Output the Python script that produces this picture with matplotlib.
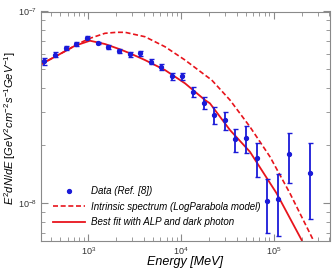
import numpy as np
import matplotlib
matplotlib.use("Agg")
import matplotlib.pyplot as plt
from matplotlib.lines import Line2D
from matplotlib.ticker import LogLocator, NullFormatter, FixedLocator

# ---- data ----
energy = [336, 438, 571, 745, 971, 1266, 1648, 2148, 2799, 3614, 4718, 6138, 8010,
          10360, 13500, 17580, 22800, 29700, 38700, 50500, 65600, 85300, 111200,
          145000, 246000]
flux_e8 = [5.49, 5.95, 6.45, 6.79, 7.30, 6.85, 6.55, 6.19, 5.98, 6.05, 5.47, 5.11,
           4.59, 4.59, 3.81, 3.34, 2.87, 2.71, 2.15, 2.18, 1.72, 1.02, 1.045, 1.80, 1.44]
err_e8 = [0.24, 0.18, 0.18, 0.15, 0.12, 0.12, 0.14, 0.15, 0.17, 0.20, 0.17, 0.18,
          0.20, 0.18, 0.22, 0.25, 0.29, 0.29, 0.30, 0.35, 0.35, 0.32, 0.37, 0.53, 0.61]

fit_logE = [2.491, 2.696, 2.858, 3.019, 3.181, 3.343, 3.451, 3.612, 3.828, 4.044,
            4.259, 4.313, 4.529, 4.744, 4.852, 5.032, 5.302]
fit_logF = [-7.2757, -7.2219, -7.1786, -7.1525, -7.1697, -7.1974, -7.2183, -7.2533,
            -7.3055, -7.3749, -7.4621, -7.4794, -7.6188, -7.7321, -7.8136, -7.9493, -8.1932]

intr_logE = [2.491, 2.696, 2.858, 2.944, 3.019, 3.181, 3.307, 3.397, 3.612, 3.828,
             4.044, 4.259, 4.332, 4.529, 4.744, 4.960, 5.176, 5.427]
intr_logF = [-7.2757, -7.2219, -7.1786, -7.1567, -7.140, -7.1138, -7.1086, -7.1086,
             -7.1316, -7.1838, -7.2533, -7.3316, -7.3577, -7.4621, -7.6016, -7.758,
             -7.9493, -8.1932]

labels = ["Data (Ref. [8])", "Intrinsic spectrum (LogParabola model)",
          "Best fit with ALP and dark photon"]

RED = "#e8141c"
BLUE = "#1a1ad8"
GRAY = "#8a8a8a"

plt.rcParams['font.family'] = ['Liberation Sans', 'DejaVu Sans']
plt.rcParams['mathtext.fontset'] = 'custom'
plt.rcParams['mathtext.it'] = 'Liberation Sans:italic'
plt.rcParams['mathtext.rm'] = 'Liberation Sans'

fig = plt.figure(figsize=(3.32, 2.73), dpi=100)
ax = fig.add_axes([41/332, 1-241/273, (329.5-41)/332, (241-11.5)/273])

E = np.array(energy, float)
F = np.array(flux_e8) * 1e-8
Er = np.array(err_e8) * 1e-8

ax.errorbar(E, F, yerr=Er, fmt='o', color=BLUE, ms=2.8, elinewidth=1.3,
            capsize=1.8, capthick=1.0, zorder=3)
h2, = ax.plot(10**np.array(intr_logE), 10**np.array(intr_logF), color=RED,
              lw=1.2, ls=(0, (3.0, 1.6)), zorder=2)
h3, = ax.plot(10**np.array(fit_logE), 10**np.array(fit_logF), color=RED,
              lw=1.3, zorder=2)
h1 = Line2D([], [], ls='none', marker='o', ms=2.8, color=BLUE)

ax.set_xscale('log')
ax.set_yscale('log')
ax.set_xlim(310, 4.0e5)
ax.set_ylim(6.34e-9, 1e-7)

ax.xaxis.set_major_locator(FixedLocator([1e3, 1e4, 1e5]))
ax.xaxis.set_minor_locator(LogLocator(base=10, subs=np.arange(2, 10)))
ax.xaxis.set_minor_formatter(NullFormatter())
ax.yaxis.set_major_locator(FixedLocator([1e-8, 1e-7]))
ax.yaxis.set_minor_locator(LogLocator(base=10, subs=np.arange(2, 10)))
ax.yaxis.set_minor_formatter(NullFormatter())

ax.set_xticklabels([r'$\mathit{10^{3}}$', r'$\mathit{10^{4}}$', r'$\mathit{10^{5}}$'])
ax.set_yticklabels([r'$\mathit{10^{-8}}$', r'$\mathit{10^{-7}}$'])

ax.tick_params(which='both', direction='in', top=True, right=True, color=GRAY,
               labelsize=6.5, labelcolor='#333333')
ax.tick_params(which='major', length=5, width=0.8, pad=3)
ax.tick_params(which='minor', length=2.8, width=0.6)
for s in ax.spines.values():
    s.set_color(GRAY)
    s.set_linewidth(0.8)

ax.set_xlabel('Energy [MeV]', fontsize=9, style='italic')
ax.xaxis.set_label_coords(0.5, -0.066)
ax.set_ylabel(r'$E^{2}dN/dE\ [GeV^{2}cm^{-2}s^{-1}GeV^{-1}]$', fontsize=8.0)
ax.yaxis.set_label_coords(-0.078, 0.49)

leg = ax.legend([h1, h2, h3], labels, loc='lower left', bbox_to_anchor=(0.02, 0.035),
                frameon=False, fontsize=7, handlelength=3.3, handletextpad=0.7,
                labelspacing=0.55, borderaxespad=0.2)
for t in leg.get_texts():
    t.set_style('italic')

fig.savefig('out.png', dpi=100)
